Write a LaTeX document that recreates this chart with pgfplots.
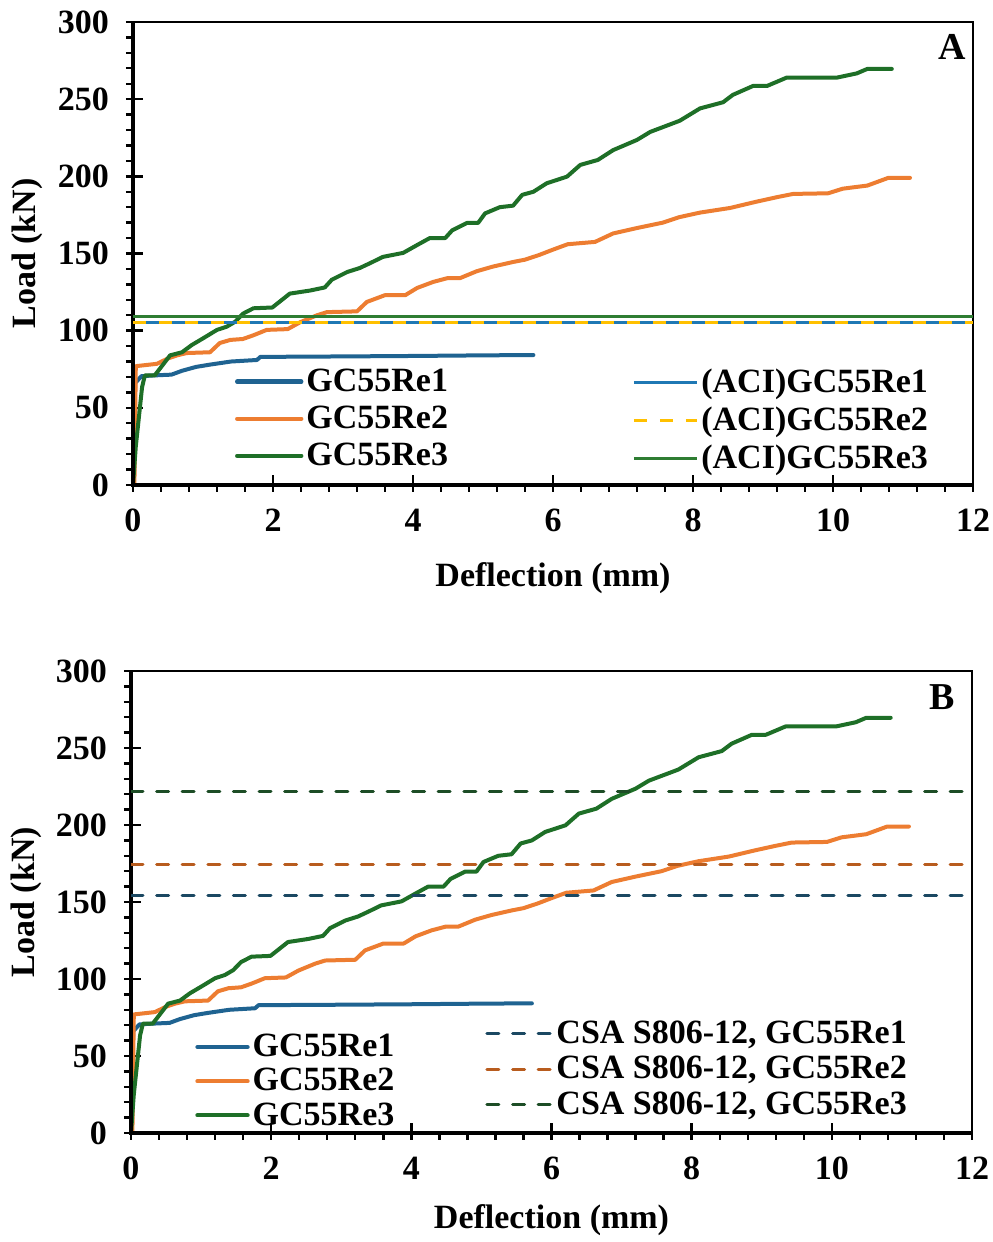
\documentclass[border=0pt]{standalone}
\usepackage{fontspec}
\setmainfont{Liberation Serif}
\usepackage{pgfplots}
\usepackage{pgfplotstable}
\pgfplotsset{compat=1.18}
\definecolor{cRe1}{HTML}{1F6391}
\definecolor{cRe2}{HTML}{ED7D31}
\definecolor{cRe3}{HTML}{1E6F27}
\definecolor{aciB}{HTML}{1F78B4}
\definecolor{aciY}{HTML}{FFC000}
\definecolor{aciG}{HTML}{2E7D32}
\definecolor{csaB}{HTML}{1B4862}
\definecolor{csaO}{HTML}{B85C1E}
\definecolor{csaG}{HTML}{1D4D26}

\pgfplotstableread{
x y
0 0
0.03 66
0.12 70.5
0.3 71
0.55 71.5
0.7 74
0.9 76.5
1.1 78
1.4 80
1.77 81
1.82 83
3.0 83.3
4.0 83.6
5.0 84
5.72 84.2
}\reA
\pgfplotstableread{
x y
0.02 0
0.04 77
0.34 78.5
0.5 82
0.63 84
0.77 85.5
1.1 86
1.24 92
1.39 94
1.57 94.6
1.72 97
1.91 100.5
2.21 101
2.39 105.5
2.63 110
2.77 112
3.2 112.5
3.34 118.6
3.6 123
3.89 123
4.06 127.7
4.29 131.6
4.49 134
4.67 134
4.91 138.5
5.14 141.5
5.43 144.5
5.6 146
5.8 149
6.0 152.5
6.21 156
6.6 157.5
6.86 163
7.2 166.5
7.57 170
7.8 173.5
8.1 176.5
8.53 179.5
8.9 183.5
9.2 186.5
9.43 188.6
9.93 189
10.14 192
10.49 194
10.79 199
11.1 199
}\reB
\pgfplotstableread{
x y
0 0
0.04 25
0.13 63.5
0.17 71
0.31 71
0.53 84
0.7 86
0.84 90.7
1.0 95
1.2 100.5
1.34 102.6
1.46 105.8
1.57 111
1.72 114.5
1.99 115
2.24 124
2.53 126
2.74 128
2.84 133
3.06 138
3.24 140.6
3.39 143.8
3.57 147.8
3.86 150.4
4.06 155.5
4.24 160
4.46 160
4.56 165
4.77 169.8
4.93 169.8
5.03 176
5.24 180
5.43 181
5.56 188
5.72 190
5.91 195.5
6.2 199.8
6.39 207.4
6.64 210.6
6.86 217
7.2 223.6
7.39 228.8
7.81 236
8.1 244
8.43 248
8.57 252.8
8.86 258.6
9.06 258.6
9.34 264
10.06 264
10.34 266.7
10.49 269.6
10.84 269.6
}\reC

\newcommand{\ff}{\fontsize{17}{20}\selectfont\bfseries}

\pgfplotsset{
  base/.style={
    scale only axis,
    xmin=0, xmax=12, ymin=0, ymax=300,
    xtick={0,2,...,12}, ytick={0,50,...,300},
    minor x tick num=4, minor y tick num=4,
    tick align=outside, xtick pos=left, ytick pos=left,
    major tick length=8.5pt, minor tick length=3.5pt,
    every major x tick/.append style={yshift=5pt},
    every major y tick/.append style={xshift=5pt},
    every tick/.append style={line width=1.2pt, black},
    axis line style={line width=1.1pt},
    tick label style={font=\ff},
    /pgf/number format/assume math mode=true,
    label style={font=\ff},
    legend style={draw=none, fill=none, inner sep=0pt,
      font=\ff, cells={anchor=west}, nodes={inner sep=1.5pt}},
    after end axis/.code={\draw[line width=2pt] (rel axis cs:0,1) -- (rel axis cs:0,0) -- (rel axis cs:1,0);},
  },
  hid/.style={scale only axis, hide axis, xmin=0, xmax=12, ymin=0, ymax=300,
    legend style={draw=none, fill=none, inner sep=0pt,
      font=\ff, cells={anchor=west}, nodes={inner sep=1.5pt}}},
  ser/.style={line width=2pt, line join=round, line cap=round},
}

\begin{document}
\begin{tikzpicture}
\path[use as bounding box] (0,0) rectangle (496pt,621pt);
% ---------- Panel A ----------
\begin{axis}[base, at={(66.5pt,378.5pt)}, anchor=south west,
  width=420pt, height=231.5pt,
  xlabel={Deflection (mm)}, ylabel={Load (kN)},
  xlabel style={at={(axis description cs:0.5,-0.201)}, anchor=center},
  ylabel style={at={(axis description cs:-0.126,0.5)}, anchor=center},
  legend image code/.code={\draw[#1, line width=2.2pt] (0pt,0pt) -- (32pt,0pt);},
  legend style={at={(axis description cs:0.121,0.258)}, anchor=north west, row sep=2.8pt},
]
\addplot[cRe1, ser] table {\reA};
\addplot[cRe2, ser] table {\reB};
\addplot[cRe3, ser] table {\reC};
\legend{GC55Re1, GC55Re2, GC55Re3}
\node[font=\ff\fontsize{19}{20}\selectfont] at (rel axis cs:0.975,0.946) {A};
\end{axis}
\begin{axis}[hid, at={(66.5pt,378.5pt)}, anchor=south west,
  width=420pt, height=231.5pt,
  legend image code/.code={\draw[#1] (0pt,0pt) -- (31.5pt,0pt);},
  legend style={at={(axis description cs:0.594,0.258)}, anchor=north west, row sep=2.8pt},
]
\addplot[aciB, line width=1.5pt] coordinates {(0,105) (12,105)};
\addplot[aciY, line width=1.5pt, dash pattern=on 6.5pt off 6.5pt] coordinates {(0,105) (12,105)};
\addplot[aciG, line width=1.5pt] coordinates {(0,109) (12,109)};
\legend{(ACI)GC55Re1, (ACI)GC55Re2, (ACI)GC55Re3}
\end{axis}
% ---------- Panel B ----------
\begin{axis}[base, at={(65.5pt,54.5pt)}, anchor=south west,
  width=420.5pt, height=231pt,
  xlabel={Deflection (mm)}, ylabel={Load (kN)},
  xlabel style={at={(axis description cs:0.5,-0.188)}, anchor=center},
  ylabel style={at={(axis description cs:-0.124,0.5)}, anchor=center},
  legend image code/.code={\draw[#1, line width=2.2pt] (0pt,0pt) -- (25pt,0pt);},
  legend style={at={(axis description cs:0.076,0.221)}, anchor=north west, row sep=1.3pt},
]
\addplot[cRe1, ser] table {\reA};
\addplot[cRe2, ser] table {\reB};
\addplot[cRe3, ser] table {\reC};
\legend{GC55Re1, GC55Re2, GC55Re3}
\node[font=\ff\fontsize{19}{20}\selectfont] at (rel axis cs:0.964,0.944) {B};
\end{axis}
\begin{axis}[hid, at={(65.5pt,54.5pt)}, anchor=south west,
  width=420.5pt, height=231pt,
  legend image code/.code={\draw[#1] (0pt,0pt) -- (32.5pt,0pt);},
  legend style={at={(axis description cs:0.421,0.251)}, anchor=north west, row sep=2.1pt},
]
\addplot[csaB, line width=1.5pt, line cap=round, dash pattern=on 6pt off 6.8pt] coordinates {(0,154) (12,154)};
\addplot[csaO, line width=1.5pt, line cap=round, dash pattern=on 6pt off 6.8pt] coordinates {(0,174.6) (12,174.6)};
\addplot[csaG, line width=1.5pt, line cap=round, dash pattern=on 6pt off 6.8pt] coordinates {(0,221.8) (12,221.8)};
\legend{{CSA S806-12, GC55Re1}, {CSA S806-12, GC55Re2}, {CSA S806-12, GC55Re3}}
\end{axis}
\end{tikzpicture}
\end{document}
